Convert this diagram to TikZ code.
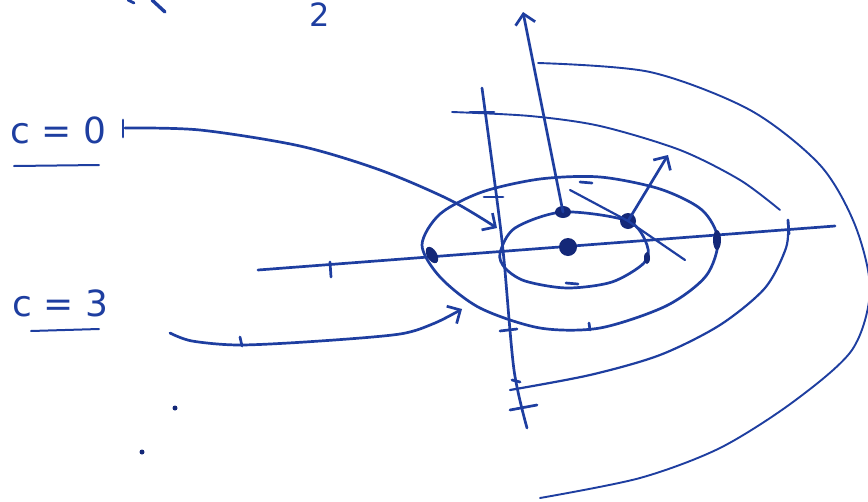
\documentclass[tikz,border=0pt]{standalone}
\usepackage{fontspec}
\setmainfont{DejaVu Sans}
\usetikzlibrary{arrows.meta}
\definecolor{pen}{RGB}{30,62,160}
\definecolor{pendark}{RGB}{20,40,120}
\begin{document}
\begin{tikzpicture}[x=1pt,y=-1pt,
  ink/.style={draw=pen,line width=2.7pt,line cap=round,line join=round},
  thin ink/.style={draw=pen,line width=1.9pt,line cap=round,line join=round},
  barb/.style={-{Straight Barb[length=10pt,width=20pt,line width=2.7pt]}},
  blob/.style={fill=pendark,draw=none},
  lbl/.style={text=pen,inner sep=0pt}]
\useasboundingbox (0,0) rectangle (868,501);
% top-left fragments
\draw[ink] (128,0) -- (134,3);
\draw[ink,line width=3.4pt] (152,0) -- (165,12);
\node[lbl,anchor=base] (two) at (320,26) {\fontsize{32}{32}\selectfont 2};
% labels
\node[lbl,anchor=base west] (c0) at (10,143) {\fontsize{36}{36}\selectfont c = 0};
\node[lbl,anchor=base west] (c3) at (12,316) {\fontsize{36}{36}\selectfont c = 3};
\coordinate (u0a) at (14,166); \coordinate (u0b) at (99,165);
\coordinate (u3a) at (31,331); \coordinate (u3b) at (99,329);
\draw[ink,line width=2pt] (u0a) -- (u0b);
\draw[ink,line width=2pt] (u3a) -- (u3b);
% key points
\coordinate (O) at (568,247);
\coordinate (P1) at (563,212);
\coordinate (P2) at (628,221);
\coordinate (L1) at (432,255);
\coordinate (R1) at (717,240);
\coordinate (A0s) at (125,128);
\coordinate (A0e) at (497,228);
\coordinate (A3s) at (170,333);
\coordinate (A3e) at (462,309);
\coordinate (Htop) at (523,12);
\coordinate (T2) at (668,155);
% axes
\coordinate (hx1) at (258,270); \coordinate (hx2) at (835,226);
\draw[ink] (hx1) -- (hx2);
\draw[ink] plot[smooth] coordinates {(482,88) (497,200) (504,260) (514,370) (527,428)};
% axis ticks
\draw[ink] (330,262) -- (331,277);
\draw[ink] (123,120) -- (123,137);
\draw[ink] (470,112) -- (494,112);
\draw[ink] (500,331) -- (517,329);
\draw[ink] (510,410) -- (537,405);
\draw[ink] (512,380) -- (520,382);
% outer thin arc
\draw[thin ink] plot[smooth] coordinates {(538,63) (650,72) (750,110) (820,165) (855,225) (870,290) (852,350) (793,402) (720,448) (640,478) (540,498)};
% middle arc
\draw[thin ink] plot[smooth] coordinates {(452,112) (530,116) (600,126) (680,150) (740,180) (780,210)};
\draw[ink] (788,220) -- (789,234);
\draw[thin ink,line width=2.2pt] plot[smooth] coordinates {(788,222) (786,248) (765,288) (720,325) (660,355) (590,375) (510,390)};
% outer ellipse
\draw[ink] plot[smooth cycle] coordinates {(422,245) (440,214) (482,192) (540,179) (600,177) (660,189) (702,210) (718,240) (706,276) (666,306) (600,328) (540,328) (480,308) (440,277)};
% inner ellipse
\draw[ink] plot[smooth cycle] coordinates {(500,253) (515,228) (563,212) (628,221) (647,245) (644,263) (612,282) (567,288) (525,281) (505,268)};
% small dashes
\draw[ink] (580,182) -- (592,183);
\draw[ink] (566,283) -- (578,284);
\draw[ink] (484,197) -- (503,197);
\draw[ink] (240,337) -- (242,346);
\draw[ink] (589,323) -- (590,330);
% blobs
\fill[blob] (O) circle (9);
\fill[blob] (P1) ellipse (8 and 6);
\fill[blob] (P2) circle (8);
\fill[blob,rotate around={-60:(L1)}] (L1) ellipse (9 and 5);
\fill[blob] (R1) ellipse (4 and 10);
\fill[blob] (647,258) ellipse (3 and 6);
\fill[blob] (175,408) circle (2.5);
\fill[blob] (142,452) circle (2.5);
% connectors
\draw[ink,barb] plot[smooth] coordinates {(A0s) (200,130) (300,146) (380,170) (450,200) (A0e)};
\draw[ink,barb] plot[smooth] coordinates {(A3s) (192,341) (240,345) (320,341) (400,334) (435,323) (A3e)};
\draw[ink,barb] (P1) -- (Htop);
\draw[ink,barb] (P2) -- (T2);
\draw[ink,line width=2.2pt] (570,190) -- (P2) -- (685,260);
\end{tikzpicture}
\end{document}
